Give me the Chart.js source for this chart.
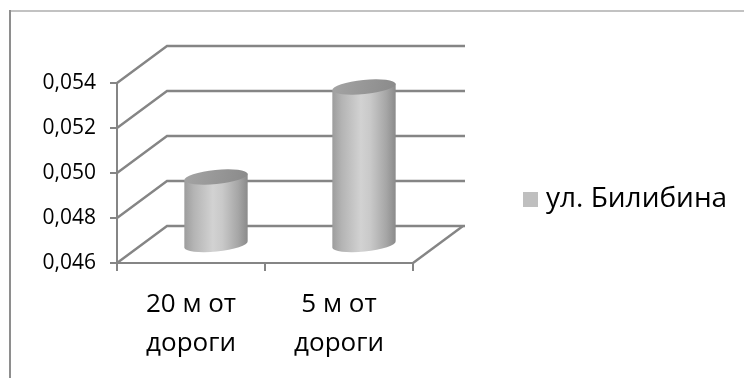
<!DOCTYPE html>
<html>
<head>
<meta charset="utf-8">
<title>ул. Билибина</title>
<script src="https://cdn.jsdelivr.net/npm/chart.js@4/dist/chart.umd.min.js"></script>
<style>
  html, body { margin: 0; padding: 0; background: #ffffff; }
  #wrap { width: 744px; height: 378px; position: relative; }
</style>
</head>
<body>
<div id="wrap"><canvas id="chart"></canvas></div>
<script>
// Categories (two-line labels), series and value axis ticks
const categories = [['20 м от', 'дороги'], ['5 м от', 'дороги']];
const seriesName = 'ул. Билибина';
const seriesValues = [0.049, 0.053];
const yTickValues = [0.046, 0.048, 0.050, 0.052, 0.054];

// 3D box depth offsets (back wall relative to front plane)
const DEPTH_X = 50;
const DEPTH_Y = -37;
const GRID_COLOR = '#858585';

Chart.defaults.font.family = "'Open Sans', 'DejaVu Sans', sans-serif";
Chart.defaults.color = '#000000';

const fmt = v => v.toFixed(3).replace('.', ',');

// Draws frame, 3D walls, cylinder columns and legend
const box3d = {
  id: 'box3d',
  beforeDraw(chart) {
    const ctx = chart.ctx;
    ctx.save();
    ctx.lineCap = 'butt';
    ctx.strokeStyle = '#c2c2c2';
    ctx.lineWidth = 2;
    ctx.beginPath();
    ctx.moveTo(9, 11); ctx.lineTo(744, 11);
    ctx.stroke();
    ctx.strokeStyle = '#8e8e8e';
    ctx.beginPath();
    ctx.moveTo(10, 10); ctx.lineTo(10, 378);
    ctx.stroke();
    ctx.restore();
  },
  beforeDatasetsDraw(chart) {
    const ctx = chart.ctx;
    const ys = chart.scales.y, xs = chart.scales.x;
    const L = xs.left, R = xs.right;
    ctx.save();
    ctx.strokeStyle = GRID_COLOR;
    ctx.lineWidth = 2.4;
    ys.ticks.forEach(t => {
      const yf = ys.getPixelForValue(t.value);
      const yb = yf + DEPTH_Y;
      ctx.beginPath();
      ctx.moveTo(L, yf);
      ctx.lineTo(L + DEPTH_X, yb);
      ctx.lineTo(R + DEPTH_X + 2, yb);
      ctx.stroke();
    });
    // floor right edge
    const y0 = ys.getPixelForValue(ys.min);
    ctx.beginPath();
    ctx.moveTo(R, y0);
    ctx.lineTo(R + DEPTH_X, y0 + DEPTH_Y);
    ctx.stroke();
    ctx.restore();
  },
  afterDatasetsDraw(chart) {
    const ctx = chart.ctx;
    const ys = chart.scales.y;
    const meta = chart.getDatasetMeta(0);
    const rot = -0.1;
    const floorY = ys.getPixelForValue(ys.min);
    meta.data.forEach(bar => {
      const p = bar.getProps(['x', 'y', 'width'], true);
      const cx = p.x + DEPTH_X / 2;
      const top = p.y + DEPTH_Y / 2;
      const bot = floorY + DEPTH_Y / 2;
      const rx = p.width / 2;
      const ry = 7;
      const ex = rx * Math.cos(rot), ey = rx * Math.sin(rot);
      ctx.save();
      // body
      const g = ctx.createLinearGradient(cx - rx, 0, cx + rx, 0);
      g.addColorStop(0, '#9c9c9c');
      g.addColorStop(0.15, '#b4b4b4');
      g.addColorStop(0.45, '#d2d2d2');
      g.addColorStop(0.6, '#c9c9c9');
      g.addColorStop(0.85, '#a6a6a6');
      g.addColorStop(1, '#8a8a8a');
      ctx.fillStyle = g;
      ctx.beginPath();
      ctx.moveTo(cx - ex, top - ey);
      ctx.lineTo(cx + ex, top + ey);
      ctx.lineTo(cx + ex, bot + ey);
      ctx.ellipse(cx, bot, rx, ry, rot, 0, Math.PI, false);
      ctx.closePath();
      ctx.fill();
      // top face
      const gt = ctx.createLinearGradient(cx - rx, top - ry, cx + rx, top + ry);
      gt.addColorStop(0, '#a4a4a4');
      gt.addColorStop(1, '#8a8a8a');
      ctx.fillStyle = gt;
      ctx.beginPath();
      ctx.ellipse(cx, top, rx, ry, rot, 0, Math.PI * 2);
      ctx.fill();
      ctx.restore();
    });
  },
  afterDraw(chart) {
    // legend entry
    const ctx = chart.ctx;
    const ds = chart.data.datasets[0];
    ctx.save();
    ctx.fillStyle = ds.legendColor;
    ctx.fillRect(523, 192, 15, 15);
    ctx.fillStyle = '#000000';
    ctx.font = "28px 'Open Sans', sans-serif";
    ctx.textBaseline = 'middle';
    ctx.textAlign = 'left';
    ctx.fillText(ds.label, 546, 199);
    ctx.restore();
  }
};

new Chart(document.getElementById('chart'), {
  type: 'bar',
  data: {
    labels: categories,
    datasets: [{
      label: seriesName,
      data: seriesValues,
      backgroundColor: 'rgba(0,0,0,0)',
      borderWidth: 0,
      legendColor: '#bfbfbf',
      categoryPercentage: 1,
      barPercentage: 0.43
    }]
  },
  options: {
    responsive: true,
    maintainAspectRatio: false,
    animation: false,
    layout: { padding: { left: 0, top: 83, right: 331, bottom: 0 } },
    plugins: {
      legend: { display: false },
      tooltip: { enabled: false }
    },
    scales: {
      x: {
        grid: { display: true, drawOnChartArea: false, drawTicks: true, tickLength: 8, color: GRID_COLOR, lineWidth: 2 },
        border: { display: true, color: GRID_COLOR, width: 2 },
        ticks: { font: { size: 26, lineHeight: 1.5 }, padding: 14, maxRotation: 0, color: '#000' },
        afterFit(scale) { scale.height = 115; }
      },
      y: {
        min: yTickValues[0],
        max: yTickValues[yTickValues.length - 1],
        afterBuildTicks(scale) { scale.ticks = yTickValues.map(v => ({ value: v })); },
        grid: { display: true, drawOnChartArea: false, drawTicks: true, tickLength: 7, color: GRID_COLOR, lineWidth: 2 },
        border: { display: true, color: GRID_COLOR, width: 2 },
        ticks: { font: { size: 21 }, padding: 14, color: '#000', callback: v => fmt(v) },
        afterFit(scale) { scale.width = 117; }
      }
    }
  },
  plugins: [box3d]
});
</script>
</body>
</html>
